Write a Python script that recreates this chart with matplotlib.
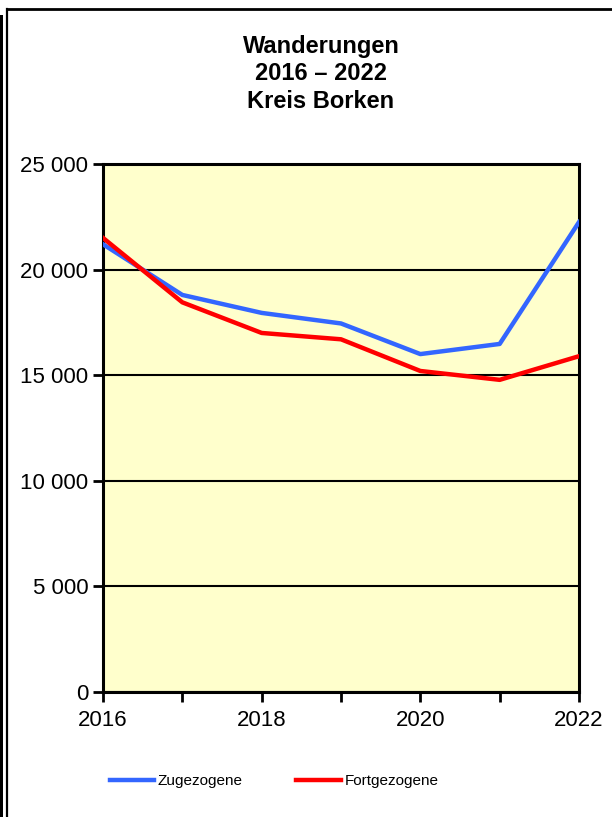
import matplotlib
matplotlib.use("Agg")
import matplotlib.pyplot as plt
from matplotlib.patches import Rectangle
from matplotlib.lines import Line2D

plt.rcParams['font.family'] = ['Liberation Sans', 'DejaVu Sans']

jahre = [2016, 2017, 2018, 2019, 2020, 2021, 2022]
zugezogene = [21200, 18800, 17950, 17450, 16000, 16480, 22250]
fortgezogene = [21500, 18450, 17000, 16700, 15200, 14780, 15900]
y_ticks = [0, 5000, 10000, 15000, 20000, 25000]
x_labels = [2016, 2018, 2020, 2022]

fig = plt.figure(figsize=(6.12, 8.17), dpi=100)

# frame around the chart
fig.add_artist(Rectangle((0, 0), 3.5 / 612, 1 - 15 / 817, transform=fig.transFigure,
                         facecolor='black', edgecolor='none'))
fig.add_artist(Line2D([7 / 612, 7 / 612], [0, 1 - 9 / 817], transform=fig.transFigure,
                      color='black', lw=1.6))
fig.add_artist(Line2D([7 / 612, 1], [1 - 9 / 817, 1 - 9 / 817], transform=fig.transFigure,
                      color='black', lw=2.0))

ax = fig.add_axes([103 / 612, 1 - 692 / 817, 476 / 612, 528 / 817])
ax.set_facecolor('#FFFFCC')

ax.plot(jahre, zugezogene, color='#3366FF', lw=3.2, label='Zugezogene', zorder=3)
ax.plot(jahre, fortgezogene, color='#FF0000', lw=3.2, label='Fortgezogene', zorder=3)

ax.set_xlim(2016, 2022)
ax.set_ylim(0, 25000)
ax.set_yticks(y_ticks)
ax.set_yticklabels([f"{v:,}".replace(",", " ") for v in y_ticks])
ax.set_xticks(jahre, minor=True)
ax.set_xticks(x_labels)
ax.set_xticklabels([str(v) for v in x_labels])
ax.grid(axis='y', color='black', lw=1.5, zorder=1)
ax.set_axisbelow(True)

for s in ax.spines.values():
    s.set_linewidth(2.2)
ax.tick_params(axis='both', which='both', width=2, length=7, labelsize=16, colors='black')
ax.tick_params(axis='x', pad=6)

for txt, yy in [('Wanderungen', 47), ('2016 – 2022', 74), ('Kreis Borken', 102)]:
    fig.text(321 / 612, 1 - yy / 817, txt, ha='center', va='center', fontsize=17, fontweight='bold')

fig.legend(loc='center', bbox_to_anchor=(274 / 612, 1 - 781 / 817), ncol=2, frameon=False,
           fontsize=11, handlelength=2.9, handletextpad=0.25, columnspacing=3.5)

fig.savefig('out.png', dpi=100)
